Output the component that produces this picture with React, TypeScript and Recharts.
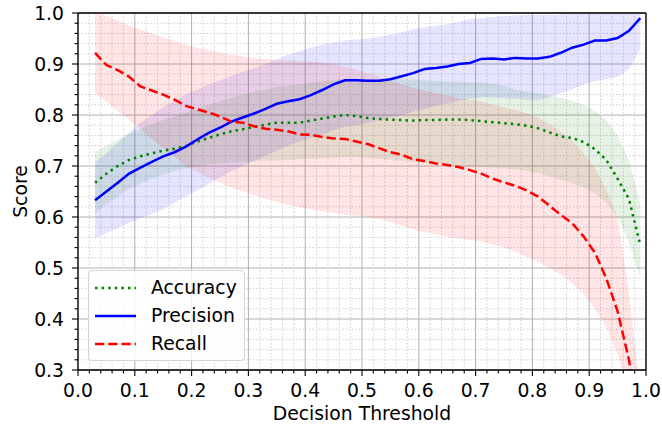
import { Area, CartesianGrid, ComposedChart, Legend, Line, ReferenceLine, XAxis, YAxis } from 'recharts'

// decision thresholds (x) and mean scores
const thresholds = [0.03, 0.05, 0.07, 0.09, 0.11, 0.13, 0.15, 0.17, 0.19, 0.21, 0.23, 0.25, 0.27, 0.29, 0.31, 0.33, 0.35, 0.37, 0.39, 0.41, 0.43, 0.45, 0.47, 0.49, 0.51, 0.53, 0.55, 0.57, 0.59, 0.61, 0.63, 0.65, 0.67, 0.69, 0.71, 0.73, 0.75, 0.77, 0.79, 0.81, 0.83, 0.85, 0.87, 0.89, 0.91, 0.93, 0.95, 0.97, 0.99]

const accuracy = [0.667, 0.685, 0.700, 0.712, 0.719, 0.725, 0.730, 0.734, 0.739, 0.748, 0.755, 0.762, 0.768, 0.772, 0.777, 0.781, 0.785, 0.785, 0.785, 0.789, 0.793, 0.797, 0.800, 0.798, 0.794, 0.792, 0.791, 0.790, 0.789, 0.790, 0.790, 0.791, 0.791, 0.790, 0.788, 0.786, 0.784, 0.782, 0.779, 0.774, 0.766, 0.758, 0.755, 0.747, 0.733, 0.712, 0.675, 0.635, 0.545]
const precision = [0.633, 0.650, 0.667, 0.685, 0.697, 0.708, 0.719, 0.727, 0.738, 0.752, 0.765, 0.775, 0.787, 0.795, 0.803, 0.812, 0.822, 0.827, 0.831, 0.839, 0.849, 0.860, 0.868, 0.868, 0.867, 0.867, 0.870, 0.876, 0.882, 0.890, 0.892, 0.895, 0.900, 0.902, 0.910, 0.911, 0.909, 0.912, 0.911, 0.911, 0.914, 0.922, 0.932, 0.938, 0.946, 0.946, 0.951, 0.965, 0.990]
const recall = [0.922, 0.898, 0.888, 0.875, 0.856, 0.848, 0.840, 0.830, 0.818, 0.811, 0.805, 0.797, 0.787, 0.785, 0.778, 0.773, 0.771, 0.768, 0.762, 0.761, 0.757, 0.754, 0.753, 0.748, 0.743, 0.735, 0.727, 0.722, 0.713, 0.710, 0.705, 0.702, 0.698, 0.692, 0.685, 0.675, 0.668, 0.661, 0.652, 0.640, 0.622, 0.604, 0.588, 0.562, 0.530, 0.480, 0.415, 0.320, 0.180]

// shaded bands (lower / upper edge)
const accLow = [0.605, 0.625, 0.640, 0.655, 0.665, 0.675, 0.683, 0.690, 0.695, 0.700, 0.703, 0.705, 0.707, 0.708, 0.709, 0.710, 0.711, 0.712, 0.713, 0.714, 0.715, 0.716, 0.717, 0.717, 0.716, 0.714, 0.712, 0.710, 0.708, 0.706, 0.704, 0.702, 0.700, 0.699, 0.698, 0.697, 0.695, 0.693, 0.690, 0.686, 0.680, 0.673, 0.666, 0.658, 0.646, 0.628, 0.600, 0.550, 0.482]
const accHigh = [0.728, 0.740, 0.752, 0.763, 0.773, 0.782, 0.790, 0.797, 0.805, 0.812, 0.820, 0.827, 0.834, 0.840, 0.845, 0.850, 0.855, 0.858, 0.860, 0.863, 0.866, 0.868, 0.870, 0.870, 0.870, 0.870, 0.870, 0.870, 0.869, 0.868, 0.867, 0.866, 0.865, 0.864, 0.863, 0.861, 0.858, 0.850, 0.846, 0.842, 0.838, 0.834, 0.828, 0.820, 0.808, 0.790, 0.760, 0.712, 0.625]
const precLow = [0.558, 0.568, 0.578, 0.588, 0.597, 0.606, 0.615, 0.628, 0.640, 0.652, 0.665, 0.677, 0.690, 0.700, 0.710, 0.720, 0.730, 0.740, 0.748, 0.755, 0.762, 0.770, 0.777, 0.780, 0.785, 0.790, 0.795, 0.800, 0.807, 0.812, 0.818, 0.822, 0.828, 0.832, 0.835, 0.835, 0.833, 0.832, 0.830, 0.830, 0.835, 0.843, 0.850, 0.860, 0.866, 0.870, 0.875, 0.890, 0.930]
const precHigh = [0.708, 0.725, 0.745, 0.765, 0.785, 0.800, 0.815, 0.828, 0.840, 0.850, 0.860, 0.868, 0.877, 0.885, 0.892, 0.900, 0.910, 0.918, 0.925, 0.932, 0.938, 0.942, 0.946, 0.948, 0.950, 0.953, 0.958, 0.962, 0.968, 0.972, 0.975, 0.978, 0.982, 0.988, 0.990, 0.992, 0.994, 0.995, 0.996, 0.996, 0.996, 0.997, 0.998, 0.998, 0.999, 0.999, 1.0, 1.0, 1.0]
const recLow = [0.843, 0.826, 0.808, 0.790, 0.772, 0.753, 0.735, 0.718, 0.700, 0.688, 0.677, 0.667, 0.658, 0.650, 0.643, 0.636, 0.630, 0.624, 0.619, 0.615, 0.611, 0.608, 0.605, 0.603, 0.600, 0.596, 0.590, 0.583, 0.576, 0.570, 0.566, 0.562, 0.558, 0.555, 0.552, 0.546, 0.540, 0.532, 0.522, 0.512, 0.500, 0.487, 0.470, 0.448, 0.420, 0.385, 0.330, 0.250, 0.100]
const recHigh = [1.0, 0.995, 0.985, 0.975, 0.968, 0.960, 0.952, 0.945, 0.938, 0.932, 0.927, 0.922, 0.918, 0.915, 0.912, 0.910, 0.908, 0.907, 0.906, 0.905, 0.903, 0.900, 0.895, 0.889, 0.882, 0.875, 0.866, 0.860, 0.853, 0.848, 0.843, 0.838, 0.833, 0.830, 0.826, 0.820, 0.815, 0.810, 0.804, 0.795, 0.782, 0.768, 0.750, 0.725, 0.695, 0.655, 0.600, 0.450, 0.250]

// ticks: every 0.02 (minor), labelled every 0.1
const xTicks = [0, 0.02, 0.04, 0.06, 0.08, 0.1, 0.12, 0.14, 0.16, 0.18, 0.2, 0.22, 0.24, 0.26, 0.28, 0.3, 0.32, 0.34, 0.36, 0.38, 0.4, 0.42, 0.44, 0.46, 0.48, 0.5, 0.52, 0.54, 0.56, 0.58, 0.6, 0.62, 0.64, 0.66, 0.68, 0.7, 0.72, 0.74, 0.76, 0.78, 0.8, 0.82, 0.84, 0.86, 0.88, 0.9, 0.92, 0.94, 0.96, 0.98, 1.0]
const yTicks = [0.3, 0.32, 0.34, 0.36, 0.38, 0.4, 0.42, 0.44, 0.46, 0.48, 0.5, 0.52, 0.54, 0.56, 0.58, 0.6, 0.62, 0.64, 0.66, 0.68, 0.7, 0.72, 0.74, 0.76, 0.78, 0.8, 0.82, 0.84, 0.86, 0.88, 0.9, 0.92, 0.94, 0.96, 0.98, 1.0]

const data = thresholds.map((t, i) => ({
    t,
    acc: accuracy[i],
    prec: precision[i],
    rec: recall[i],
    accBand: [accLow[i], accHigh[i]],
    precBand: [precLow[i], precHigh[i]],
    recBand: [recLow[i], recHigh[i]],
}))

const legendItems = [
    { name: 'Accuracy', color: '#008000', dash: '2.5 4.1' },
    { name: 'Precision', color: '#0000ff', dash: undefined },
    { name: 'Recall', color: '#ff0000', dash: '9.25 4' },
]

const FONT = '"DejaVu Sans", Verdana, sans-serif'
const FONT_SIZE = 18.8
const TICK_SIZE = 6
const X_TICK_MARGIN = 7
const Y_TICK_MARGIN = 8

const isTenth = (v: number) => Math.abs(v * 10 - Math.round(v * 10)) < 1e-3

const XTick = (props: any) => {
    const { x, y, payload } = props
    const major = isTenth(payload.value)
    const y0 = y - TICK_SIZE - X_TICK_MARGIN
    return (
        <g>
            <line x1={x} x2={x} y1={y0} y2={y0 + (major ? 6 : 3.5)} stroke="#000" strokeWidth={1.1} />
            {major && (
                <text x={x} y={y} dy="0.73em" textAnchor="middle" fill="#000" fontSize={FONT_SIZE} fontFamily={FONT}>
                    {payload.value.toFixed(1)}
                </text>
            )}
        </g>
    )
}

const YTick = (props: any) => {
    const { x, y, payload } = props
    const major = isTenth(payload.value)
    const x0 = x + TICK_SIZE + Y_TICK_MARGIN
    return (
        <g>
            <line x1={x0} x2={x0 - (major ? 6 : 3.5)} y1={y} y2={y} stroke="#000" strokeWidth={1.1} />
            {major && (
                <text x={x} y={y} dy="0.36em" textAnchor="end" fill="#000" fontSize={FONT_SIZE} fontFamily={FONT}>
                    {payload.value.toFixed(1)}
                </text>
            )}
        </g>
    )
}

// major grid every 0.1 solid, minor grid every 0.02 dotted
const gridLine = (p: any, frac: number, steps: number) => {
    const major = Math.abs(frac * steps - Math.round(frac * steps)) < 1e-3
    return (
        <line
            key={p.key}
            x1={p.x1} y1={p.y1} x2={p.x2} y2={p.y2}
            stroke={major ? '#b0b0b0' : '#cfcfcf'}
            strokeWidth={1}
            strokeDasharray={major ? undefined : '1.5 1.8'}
        />
    )
}
const VGrid = (p: any) => gridLine(p, (p.x1 - p.x) / p.width, 10)
const HGrid = (p: any) => gridLine(p, (p.y1 - p.y) / p.height, 7)

const LegendBox = () => (
    <div style={{
        position: 'relative', width: 157, height: 91, boxSizing: 'border-box',
        border: '1px solid #d4d4d4', borderRadius: 4, background: 'rgba(255,255,255,0.8)',
        fontFamily: FONT, fontSize: FONT_SIZE, color: '#000',
    }}>
        {legendItems.map((item, i) => (
            <div key={item.name} style={{ position: 'absolute', left: 0, top: 3 + i * 28, height: 28, display: 'flex', alignItems: 'center' }}>
                <svg width={62} height={10} style={{ display: 'block' }}>
                    <line x1={6} x2={47} y1={5} y2={5} stroke={item.color} strokeWidth={2.5} strokeDasharray={item.dash} />
                </svg>
                <span style={{ lineHeight: '28px', whiteSpace: 'nowrap' }}>{item.name}</span>
            </div>
        ))}
    </div>
)

const App = () => {
    return (
        <div style={{ position: 'absolute', left: 0, top: 0 }}>
            <ComposedChart width={662} height={426} data={data} margin={{ top: 13, right: 16, bottom: 0, left: 0 }}>
                <CartesianGrid vertical={VGrid} horizontal={HGrid} />
                <XAxis
                    type="number" dataKey="t" domain={[0, 1]} ticks={xTicks} interval={0}
                    height={56} tickLine={false} tickSize={TICK_SIZE} tickMargin={X_TICK_MARGIN}
                    tick={XTick} axisLine={{ stroke: '#000', strokeWidth: 1.3 }}
                    label={{ value: 'Decision Threshold', position: 'insideBottom', offset: 6, fill: '#000', fontSize: FONT_SIZE, fontFamily: FONT }}
                />
                <YAxis
                    type="number" domain={[0.3, 1]} allowDataOverflow ticks={yTicks} interval={0}
                    width={78} tickLine={false} tickSize={TICK_SIZE} tickMargin={Y_TICK_MARGIN}
                    tick={YTick} axisLine={{ stroke: '#000', strokeWidth: 1.3 }}
                    label={{ value: 'Score', angle: -90, position: 'insideLeft', offset: 20, fill: '#000', fontSize: FONT_SIZE, fontFamily: FONT, style: { textAnchor: 'middle' } }}
                />
                <Area dataKey="accBand" stroke="none" fill="#008000" fillOpacity={0.1} legendType="none" isAnimationActive={false} />
                <Area dataKey="precBand" stroke="none" fill="#0000ff" fillOpacity={0.1} legendType="none" isAnimationActive={false} />
                <Area dataKey="recBand" stroke="none" fill="#ff0000" fillOpacity={0.1} legendType="none" isAnimationActive={false} />
                <Line dataKey="acc" name="Accuracy" stroke="#008000" strokeWidth={2.5} strokeDasharray="2.5 4.1" dot={false} isAnimationActive={false} />
                <Line dataKey="prec" name="Precision" stroke="#0000ff" strokeWidth={2.5} dot={false} isAnimationActive={false} />
                <Line dataKey="rec" name="Recall" stroke="#ff0000" strokeWidth={2.5} strokeDasharray="9.25 4" dot={false} isAnimationActive={false} />
                <ReferenceLine y={1} stroke="#000" strokeWidth={1.3} />
                <ReferenceLine x={1} stroke="#000" strokeWidth={1.3} />
                <Legend
                    layout="horizontal" verticalAlign="middle" align="center"
                    content={LegendBox}
                    wrapperStyle={{ left: 88, top: 270, width: 157, height: 91 }}
                />
            </ComposedChart>
        </div>
    )
}

export default App
